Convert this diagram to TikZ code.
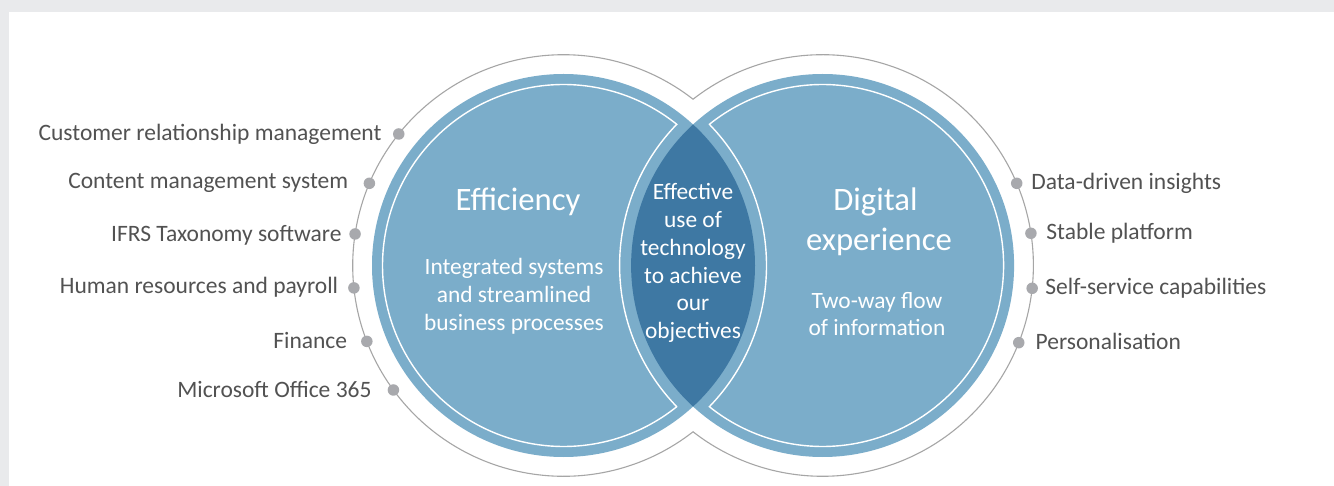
\documentclass[tikz,border=0pt]{standalone}
\usepackage{fontspec}
\setmainfont{Carlito}
\usetikzlibrary{calc}
\definecolor{lblue}{HTML}{7BADCA}
\definecolor{dblue}{HTML}{3E78A3}
\definecolor{ringgray}{HTML}{A6A6A6}
\definecolor{dotgray}{HTML}{A8A9AD}
\definecolor{txtgray}{HTML}{525252}
\definecolor{bggray}{HTML}{E9EAEC}
\newcommand{\mlines}[1]{\begin{tabular}[t]{@{}c@{}}#1\end{tabular}}
\begin{document}
\begin{tikzpicture}[x=1pt,y=-1pt,
  ringline/.style={draw=ringgray,line width=1.1pt},
  whiteline/.style={draw=white,line width=1.4pt},
  dot/.style={circle,fill=dotgray,inner sep=0pt,minimum size=11.5pt},
  lbl/.style={font=\fontsize{23.5}{27.5}\selectfont,text=txtgray,inner sep=0pt},
  wtitle/.style={font=\fontsize{32.7}{40}\selectfont,text=white,inner sep=0pt},
  wbody/.style={font=\fontsize{23.4}{27.7}\selectfont,text=white,inner sep=0pt}]
\useasboundingbox (0,0) rectangle (1334,486);
\fill[bggray] (0,0) rectangle (1334,486);
\fill[white] (9,12) rectangle (1334,486);
% geometry
\coordinate (L) at (563.5,265.5);
\coordinate (R) at (822.6,265.5);
\def\rB{191.5}
\def\rW{181}
\def\rE{203}
\def\rG{210.8}
\def\angA{51.27}
\def\angB{135.93}
\def\gA{52.08}
% outer gray ring
\draw[ringline] (L) ++(\gA:\rG) arc[start angle=\gA, end angle=360-\gA, radius=\rG]
  arc[start angle=180+\gA, end angle=540-\gA, radius=\rG] -- cycle;
% blue discs
\fill[lblue] (L) circle[radius=\rB];
\fill[lblue] (R) circle[radius=\rB];
\begin{scope}
  \clip (L) circle[radius=\rB];
  \fill[dblue] (R) circle[radius=\rB];
\end{scope}
% white inner lines
\draw[whiteline] (L) ++(\angA:\rW) arc[start angle=\angA, end angle=360-\angA, radius=\rW]
  arc[start angle=360-\angB, end angle=\angB, radius=\rE] -- cycle;
\draw[whiteline] (R) ++(180+\angA:\rW) arc[start angle=180+\angA, end angle=540-\angA, radius=\rW]
  arc[start angle=180-\angB, end angle=\angB-180, radius=\rE] -- cycle;
% dots on the ring
\node[dot] (l1) at ($(L)+(218.6:\rG)$) {};
\node[dot] (l2) at ($(L)+(202.95:\rG)$) {};
\node[dot] (l3) at ($(L)+(188.6:\rG)$) {};
\node[dot] (l4) at ($(L)+(173.9:\rG)$) {};
\node[dot] (l5) at ($(L)+(158.9:\rG)$) {};
\node[dot] (l6) at ($(L)+(143.8:\rG)$) {};
\node[dot] (r1) at ($(R)+(-22.95:\rG)$) {};
\node[dot] (r2) at ($(R)+(-8.79:\rG)$) {};
\node[dot] (r3) at ($(R)+(6.21:\rG)$) {};
\node[dot] (r4) at ($(R)+(21.48:\rG)$) {};
% left labels
\node[lbl,anchor=base east] (tl1) at (381.7,141) {Customer relationship management};
\node[lbl,anchor=base east] (tl2) at (348.3,189) {Content management system};
\node[lbl,anchor=base east] (tl3) at (341.7,241.7) {IFRS Taxonomy software};
\node[lbl,anchor=base east] (tl4) at (338.3,293.3) {Human resources and payroll};
\node[lbl,anchor=base east] (tl5) at (347.3,348.3) {Finance};
\node[lbl,anchor=base east] (tl6) at (371.7,397.3) {Microsoft Office 365};
% right labels
\node[lbl,anchor=base west] (tr1) at (1031.2,189.3) {Data-driven insights};
\node[lbl,anchor=base west] (tr2) at (1046.2,240) {Stable platform};
\node[lbl,anchor=base west] (tr3) at (1045.2,295) {Self-service capabilities};
\node[lbl,anchor=base west] (tr4) at (1035.5,350) {Personalisation};
% circle texts
\node[wtitle,anchor=base] (eff) at (518,210.7) {Efficiency};
\node[wbody,anchor=base] (effb) at (514,275) {\mlines{Integrated systems\\and streamlined\\business processes}};
\node[wtitle,anchor=base] (dig) at (879,210.7) {\mlines{Digital\kern7pt\\experience}};
\node[wbody,anchor=base] (digb) at (877,308.3) {\mlines{Two-way flow\\of information}};
\node[wbody,anchor=base] (mid) at (693,200) {\mlines{Effective\\use of\\technology\\to achieve\\our\\objectives}};
\end{tikzpicture}
\end{document}
